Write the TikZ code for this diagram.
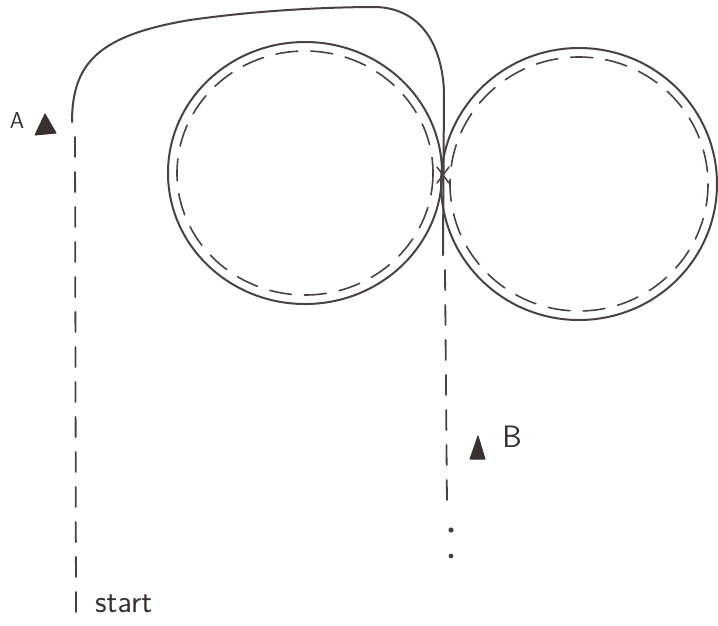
\documentclass[tikz,border=0pt]{standalone}
\usepackage{fontspec}
\usepackage{tikz}
\usetikzlibrary{calc}
\definecolor{ink}{HTML}{4A4242}
\definecolor{darkink}{HTML}{3A3030}
\tikzset{
  solidline/.style={draw=ink, line width=2pt, line cap=round, line join=round},
  dashline/.style={draw=ink, line width=1.8pt, line cap=round, dash pattern=on 20pt off 15pt},
  dashring/.style={draw=ink, line width=1.6pt, line cap=round, dash pattern=on 22pt off 13pt},
  marker/.style={fill=darkink, draw=darkink, line width=1pt, line join=round},
  lbl/.style={text=darkink, inner sep=0pt}
}
\begin{document}
\begin{tikzpicture}[x=1pt,y=-1pt]
\useasboundingbox (0,0) rectangle (718,625);
% circles
\draw[solidline] (305,173) ellipse [x radius=137, y radius=131];
\draw[dashring] (305,173) ellipse [x radius=128, y radius=122];
\draw[solidline] (579,184) ellipse [x radius=138, y radius=136];
\draw[dashring] (579,184) ellipse [x radius=129, y radius=127];
% start path
\coordinate (startpt) at (76,612);
\coordinate (top) at (75,132);
\draw[dashline] (startpt) -- (top);
\draw[solidline] (72,122) .. controls (72,62) and (100,35) .. (190,20)
  .. controls (260,10) and (330,7) .. (377,7)
  .. controls (418,9) and (441,40) .. (444,90) -- (443,255);
\coordinate (cross) at (443,175);
\draw[solidline, line width=1.5pt] ($(cross)+(-6,-8)$) -- ($(cross)+(6,8)$);
\draw[solidline, line width=1.5pt] ($(cross)+(6,-8)$) -- ($(cross)+(-6,8)$);
% lower dashed
\draw[dashline] (445,270) -- (447,505);
\fill[ink] (451,530) circle (2.6pt);
\fill[ink] (451,556) circle (2.4pt);
% markers
\draw[marker] (35,135) -- (45,114) -- (56,133) -- cycle;
\node[lbl, font=\sffamily\fontsize{23}{23}\selectfont] (labA) at (17,121) {A};
\draw[marker] (470,459) -- (478,436) -- (485,459) -- cycle;
\node[lbl, font=\sffamily\fontsize{31}{31}\selectfont] (labB) at (512,437) {B};
\node[lbl, font=\sffamily\fontsize{32}{32}\selectfont, anchor=base west] (labstart) at (95,612) {start};
\end{tikzpicture}
\end{document}
